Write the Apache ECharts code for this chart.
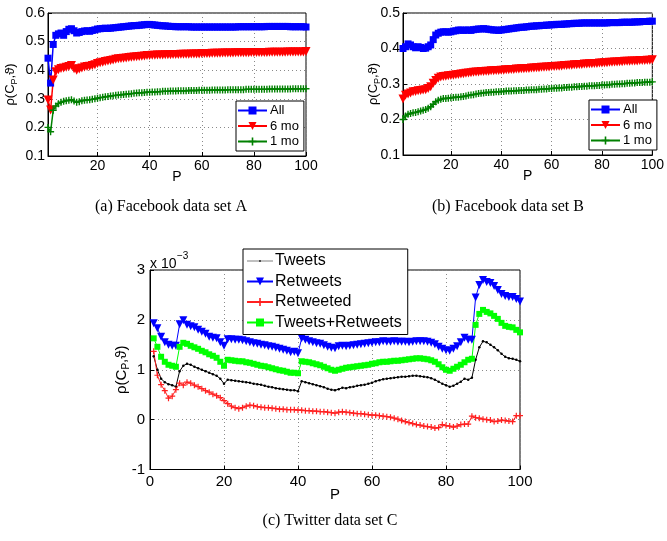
<!DOCTYPE html>
<html><head><meta charset="utf-8">
<script src="https://cdn.jsdelivr.net/npm/echarts@6/dist/echarts.min.js"></script>
<style>html,body{margin:0;padding:0;background:#fff}#c{width:667px;height:541px}</style>
</head><body><div id="c"></div>
<script>
// x positions (P = 1..100)
const P = Array.from({length: 100}, (_, i) => i + 1);

// (a) Facebook data set A
const aAll = [0.442,0.355,0.490,0.522,0.527,0.530,0.522,0.535,0.543,0.545,
  0.538,0.530,0.532,0.535,0.537,0.538,0.536,0.539,0.541,0.544,
  0.545,0.546,0.547,0.546,0.547,0.548,0.549,0.550,0.551,0.552,
  0.553,0.554,0.555,0.556,0.556,0.557,0.558,0.559,0.560,0.560,
  0.559,0.558,0.557,0.556,0.555,0.555,0.554,0.553,0.553,0.552,
  0.552,0.552,0.552,0.552,0.552,0.551,0.551,0.551,0.551,0.551,
  0.551,0.551,0.551,0.551,0.551,0.551,0.551,0.551,0.551,0.551,
  0.551,0.551,0.551,0.552,0.552,0.552,0.552,0.552,0.552,0.552,
  0.552,0.552,0.552,0.552,0.553,0.553,0.553,0.553,0.553,0.553,
  0.553,0.553,0.553,0.552,0.552,0.552,0.552,0.552,0.552,0.551];
const a6mo = [0.296,0.261,0.366,0.395,0.402,0.406,0.408,0.410,0.413,0.416,
  0.405,0.400,0.404,0.408,0.411,0.413,0.414,0.416,0.419,0.423,
  0.426,0.428,0.430,0.432,0.434,0.436,0.438,0.440,0.441,0.442,
  0.443,0.444,0.445,0.446,0.447,0.448,0.449,0.450,0.451,0.451,
  0.452,0.452,0.453,0.453,0.453,0.454,0.454,0.454,0.455,0.455,
  0.455,0.456,0.456,0.456,0.456,0.457,0.457,0.457,0.457,0.458,
  0.458,0.458,0.458,0.459,0.459,0.459,0.459,0.460,0.460,0.460,
  0.460,0.460,0.461,0.461,0.461,0.461,0.461,0.461,0.462,0.462,
  0.462,0.462,0.462,0.462,0.462,0.463,0.463,0.463,0.463,0.463,
  0.463,0.463,0.464,0.464,0.464,0.464,0.464,0.464,0.464,0.465];
const a1mo = [0.200,0.185,0.260,0.275,0.283,0.288,0.291,0.293,0.295,0.297,
  0.292,0.288,0.290,0.293,0.295,0.296,0.297,0.298,0.300,0.302,
  0.304,0.305,0.307,0.308,0.310,0.311,0.312,0.313,0.314,0.315,
  0.316,0.317,0.318,0.319,0.320,0.321,0.321,0.322,0.323,0.323,
  0.324,0.324,0.325,0.325,0.326,0.326,0.326,0.327,0.327,0.327,
  0.328,0.328,0.328,0.328,0.329,0.329,0.329,0.329,0.330,0.330,
  0.330,0.330,0.330,0.331,0.331,0.331,0.331,0.331,0.331,0.332,
  0.332,0.332,0.332,0.332,0.332,0.332,0.333,0.333,0.333,0.333,
  0.333,0.333,0.333,0.333,0.333,0.334,0.334,0.334,0.334,0.334,
  0.334,0.334,0.334,0.334,0.335,0.335,0.335,0.335,0.335,0.335];

// (b) Facebook data set B
const bAll = [0.400,0.405,0.413,0.410,0.405,0.402,0.405,0.403,0.400,0.401,
  0.405,0.410,0.425,0.438,0.443,0.446,0.447,0.447,0.446,0.447,
  0.449,0.450,0.452,0.452,0.451,0.452,0.452,0.451,0.453,0.454,
  0.455,0.455,0.456,0.455,0.454,0.453,0.452,0.452,0.451,0.452,
  0.453,0.454,0.455,0.456,0.457,0.458,0.459,0.460,0.460,0.461,
  0.462,0.463,0.463,0.464,0.464,0.465,0.465,0.466,0.466,0.467,
  0.467,0.468,0.468,0.468,0.469,0.469,0.470,0.470,0.471,0.471,
  0.471,0.472,0.472,0.472,0.472,0.472,0.472,0.472,0.472,0.472,
  0.472,0.472,0.473,0.473,0.473,0.473,0.473,0.474,0.474,0.474,
  0.474,0.474,0.475,0.475,0.475,0.476,0.476,0.476,0.477,0.477];
const b6mo = [0.258,0.268,0.272,0.275,0.278,0.279,0.281,0.282,0.283,0.284,
  0.287,0.292,0.302,0.310,0.316,0.320,0.321,0.322,0.323,0.324,
  0.325,0.326,0.327,0.328,0.329,0.330,0.331,0.332,0.333,0.334,
  0.334,0.335,0.335,0.336,0.336,0.337,0.337,0.338,0.338,0.339,
  0.339,0.340,0.340,0.341,0.341,0.342,0.342,0.343,0.343,0.344,
  0.344,0.345,0.345,0.346,0.346,0.347,0.347,0.348,0.348,0.349,
  0.349,0.350,0.350,0.351,0.352,0.352,0.353,0.353,0.354,0.354,
  0.355,0.355,0.356,0.356,0.357,0.357,0.358,0.358,0.359,0.359,
  0.360,0.360,0.361,0.361,0.362,0.362,0.363,0.363,0.364,0.364,
  0.364,0.365,0.365,0.365,0.366,0.366,0.366,0.367,0.367,0.368];
const b1mo = [0.200,0.210,0.215,0.217,0.219,0.220,0.222,0.224,0.226,0.228,
  0.232,0.236,0.243,0.250,0.254,0.257,0.259,0.259,0.260,0.261,
  0.262,0.263,0.263,0.264,0.265,0.266,0.268,0.269,0.270,0.272,
  0.273,0.274,0.275,0.276,0.276,0.277,0.277,0.278,0.278,0.279,
  0.279,0.280,0.280,0.280,0.281,0.281,0.282,0.282,0.282,0.283,
  0.283,0.284,0.284,0.284,0.285,0.285,0.286,0.286,0.287,0.287,
  0.288,0.288,0.289,0.289,0.290,0.290,0.291,0.291,0.292,0.292,
  0.293,0.293,0.294,0.294,0.295,0.295,0.295,0.296,0.296,0.297,
  0.297,0.298,0.298,0.299,0.299,0.300,0.300,0.301,0.301,0.302,
  0.302,0.303,0.303,0.304,0.304,0.304,0.305,0.305,0.305,0.306];

// (c) Twitter data set C (values x 10^-3)
const cTweets = [1.27,1.00,0.82,0.75,0.71,0.69,0.66,0.97,1.08,1.12,
  1.10,1.06,1.03,1.00,0.97,0.94,0.91,0.88,0.82,0.72,
  0.80,0.79,0.78,0.77,0.76,0.75,0.74,0.72,0.71,0.70,
  0.68,0.66,0.65,0.63,0.62,0.61,0.60,0.59,0.59,0.57,
  0.77,0.75,0.73,0.71,0.69,0.67,0.65,0.62,0.60,0.59,
  0.61,0.64,0.63,0.65,0.66,0.68,0.69,0.70,0.72,0.74,
  0.77,0.79,0.81,0.82,0.83,0.84,0.85,0.86,0.86,0.87,
  0.88,0.88,0.87,0.86,0.85,0.83,0.80,0.76,0.72,0.69,
  0.66,0.68,0.72,0.76,0.82,0.80,0.84,1.20,1.45,1.57,
  1.55,1.50,1.45,1.39,1.32,1.26,1.23,1.22,1.20,1.17];
const cRetweets = [1.93,1.83,1.66,1.55,1.50,1.48,1.48,1.91,1.99,1.90,
  1.87,1.85,1.80,1.76,1.72,1.66,1.64,1.63,1.55,1.48,
  1.61,1.61,1.60,1.60,1.59,1.57,1.55,1.53,1.52,1.50,
  1.49,1.47,1.46,1.44,1.42,1.40,1.38,1.35,1.36,1.33,
  1.63,1.60,1.57,1.55,1.53,1.52,1.49,1.46,1.44,1.43,
  1.47,1.48,1.47,1.48,1.49,1.50,1.51,1.52,1.53,1.54,
  1.55,1.55,1.57,1.56,1.56,1.57,1.56,1.56,1.56,1.55,
  1.56,1.57,1.57,1.57,1.56,1.54,1.51,1.46,1.42,1.39,
  1.38,1.42,1.47,1.55,1.64,1.60,1.60,2.45,2.70,2.80,
  2.76,2.74,2.68,2.60,2.52,2.48,2.46,2.46,2.42,2.37];
const cRetweeted = [1.37,0.89,0.70,0.58,0.43,0.47,0.60,0.73,0.69,0.75,
  0.73,0.69,0.66,0.62,0.58,0.55,0.51,0.48,0.44,0.38,
  0.32,0.27,0.24,0.22,0.24,0.27,0.29,0.28,0.26,0.25,
  0.24,0.24,0.23,0.22,0.21,0.21,0.20,0.20,0.20,0.19,
  0.19,0.18,0.18,0.17,0.17,0.16,0.16,0.15,0.14,0.13,
  0.15,0.16,0.15,0.14,0.13,0.12,0.12,0.11,0.10,0.09,
  0.09,0.08,0.07,0.06,0.05,0.03,0.01,-0.02,-0.04,-0.06,
  -0.08,-0.10,-0.11,-0.13,-0.14,-0.15,-0.17,-0.16,-0.10,-0.12,
  -0.13,-0.15,-0.13,-0.10,-0.09,-0.09,0.07,0.04,0.03,0.01,
  0.00,-0.01,-0.04,-0.03,-0.01,-0.02,-0.03,-0.04,0.08,0.08];
const cTweetsRetweets = [1.63,1.46,1.26,1.16,1.10,1.08,1.06,1.46,1.54,1.52,
  1.48,1.45,1.42,1.38,1.35,1.31,1.28,1.24,1.16,1.08,
  1.20,1.19,1.18,1.17,1.17,1.15,1.14,1.12,1.10,1.08,
  1.07,1.05,1.03,1.01,0.99,0.98,0.96,0.94,0.94,0.93,
  1.17,1.16,1.15,1.13,1.11,1.09,1.06,1.03,1.00,0.98,
  1.00,1.02,1.04,1.05,1.06,1.07,1.08,1.09,1.10,1.12,
  1.13,1.15,1.16,1.16,1.17,1.18,1.18,1.19,1.20,1.21,
  1.22,1.23,1.23,1.22,1.21,1.19,1.16,1.11,1.05,1.00,
  0.98,1.02,1.06,1.10,1.15,1.20,1.22,1.90,2.12,2.20,
  2.16,2.13,2.08,2.02,1.94,1.88,1.86,1.85,1.80,1.75];

// tick labels
const xTicksAB = [20, 40, 60, 80, 100];
const namesAB = ['All', '6 mo', '1 mo'];
const namesC = ['Tweets', 'Retweets', 'Retweeted', 'Tweets+Retweets'];
const captions = ['(a) Facebook data set A', '(b) Facebook data set B', '(c) Twitter data set C'];

const FF = 'Liberation Sans, Arial, DejaVu Sans, sans-serif';
const PLUS = 'path://M4,0H6V4H10V6H6V10H4V6H0V4H4Z';
const pts = arr => P.map((p, i) => [p, arr[i]]);

function yName(fs, sfs) {
  return {
    name: '{n|ρ(C}{s|P}{n|,ϑ)}',
    nameLocation: 'middle',
    nameMoveOverlap: false,
    nameTextStyle: { rich: {
      n: { fontSize: fs, fontFamily: FF, color: '#000', lineHeight: fs + 4 },
      s: { fontSize: sfs, fontFamily: FF, color: '#000', lineHeight: fs + 4, verticalAlign: 'bottom', padding: [Math.round(fs * 0.45), 0, 0, 0] }
    } }
  };
}
const gridLine = { show: true, lineStyle: { color: '#8a8a8a', width: 1, type: [1, 3] } };

function xAxisAB(gi) {
  return {
    type: 'value', gridIndex: gi, min: 1, max: 100,
    axisLine: { show: true, onZero: false, lineStyle: { color: '#000' } },
    axisTick: { show: true, inside: true, length: 4, customValues: xTicksAB, lineStyle: { color: '#000' } },
    axisLabel: { customValues: xTicksAB, color: '#000', fontSize: 14, fontFamily: FF, margin: 3 },
    splitLine: gridLine,
    name: 'P', nameLocation: 'middle', nameGap: 14, nameMoveOverlap: false,
    nameTextStyle: { fontSize: 14, fontFamily: FF, color: '#000' }
  };
}
function yAxisAB(gi, min, max, gap) {
  return Object.assign({
    type: 'value', gridIndex: gi, min: min, max: max, interval: 0.1,
    axisLine: { show: true, onZero: false, lineStyle: { color: '#000' } },
    axisTick: { show: true, inside: true, length: 4, lineStyle: { color: '#000' } },
    axisLabel: { color: '#000', fontSize: 14, fontFamily: FF, margin: 3, formatter: v => v.toFixed(1) },
    splitLine: gridLine,
    nameGap: gap
  }, yName(13, 9));
}

function lineSeries(name, arr, xi, color, symbol, size, rotate, lw) {
  return {
    type: 'line', name: name, xAxisIndex: xi, yAxisIndex: xi,
    data: pts(arr), symbol: symbol, symbolSize: size, symbolRotate: rotate || 0,
    showSymbol: true, showAllSymbol: true, animation: false,
    lineStyle: { color: color, width: lw || 1.5 },
    itemStyle: { color: color, borderWidth: 0 },
    emphasis: { disabled: true }
  };
}

const chart = echarts.init(document.getElementById('c'), null, { renderer: 'canvas' });
chart.setOption({
  backgroundColor: '#fff',
  animation: false,
  grid: [
    { left: 48, top: 13, width: 258, height: 143, show: true, borderColor: '#000', borderWidth: 1, backgroundColor: 'transparent' },
    { left: 403, top: 13, width: 258, height: 142, show: true, borderColor: '#000', borderWidth: 1, backgroundColor: 'transparent' },
    { left: 150, top: 270, width: 370, height: 199.5, show: true, borderColor: '#000', borderWidth: 1, backgroundColor: 'transparent' }
  ],
  xAxis: [
    xAxisAB(0), xAxisAB(1),
    {
      type: 'value', gridIndex: 2, min: 0, max: 100, interval: 20,
      axisLine: { show: true, onZero: false, lineStyle: { color: '#000' } },
      axisTick: { show: true, inside: true, length: 4, lineStyle: { color: '#000' } },
      axisLabel: { color: '#000', fontSize: 15, fontFamily: FF, margin: 5 },
      splitLine: gridLine,
      name: 'P', nameLocation: 'middle', nameGap: 18, nameMoveOverlap: false,
      nameTextStyle: { fontSize: 15, fontFamily: FF, color: '#000' }
    }
  ],
  yAxis: [
    yAxisAB(0, 0.1, 0.6, 29), yAxisAB(1, 0.1, 0.5, 21),
    Object.assign({
      type: 'value', gridIndex: 2, min: -1, max: 3, interval: 1,
      axisLine: { show: true, onZero: false, lineStyle: { color: '#000' } },
      axisTick: { show: true, inside: true, length: 4, lineStyle: { color: '#000' } },
      axisLabel: { color: '#000', fontSize: 15, fontFamily: FF, margin: 5 },
      splitLine: gridLine,
      nameGap: 19
    }, yName(15, 10))
  ],
  legend: [
    { data: namesAB, orient: 'vertical', left: 236, top: 101, itemWidth: 29, itemHeight: 10, itemGap: 2.5,
      padding: [3, 5, 3, 1], borderColor: '#000', borderWidth: 1, backgroundColor: '#fff', borderRadius: 0,
      textStyle: { fontSize: 13, fontFamily: FF, color: '#000', padding: [0, 0, 0, -2] }, selectedMode: false, z: 10 },
    { data: namesAB, orient: 'vertical', left: 589, top: 100, itemWidth: 29, itemHeight: 10, itemGap: 2.5,
      padding: [3, 5, 3, 1], borderColor: '#000', borderWidth: 1, backgroundColor: '#fff', borderRadius: 0,
      textStyle: { fontSize: 13, fontFamily: FF, color: '#000', padding: [0, 0, 0, -2] }, selectedMode: false, z: 10 },
    { data: [
        { name: 'Tweets', icon: 'path://M0,4.6H30V5.4H0Z M14,4H16V6H14Z' },
        'Retweets', 'Retweeted', 'Tweets+Retweets'],
      orient: 'vertical', left: 243, top: 249, itemWidth: 26, itemHeight: 10, itemGap: 4.5,
      padding: [4, 6, 4, 3], borderColor: '#000', borderWidth: 1, backgroundColor: '#fff', borderRadius: 0,
      textStyle: { fontSize: 16, fontFamily: FF, color: '#000', padding: [0, 0, 0, -3] }, selectedMode: false, z: 10 }
  ],
  graphic: [
    { type: 'text', left: 150, top: 257, style: { text: 'x 10', font: '14px ' + FF, fill: '#000' } },
    { type: 'text', left: 177, top: 251, style: { text: '\u22123', font: '10px ' + FF, fill: '#000' } },
    { type: 'text', x: 171, y: 207, style: { text: captions[0], font: '16px Liberation Serif, Times New Roman, serif', fill: '#000', textAlign: 'center', textVerticalAlign: 'middle' } },
    { type: 'text', x: 508, y: 207, style: { text: captions[1], font: '16px Liberation Serif, Times New Roman, serif', fill: '#000', textAlign: 'center', textVerticalAlign: 'middle' } },
    { type: 'text', x: 330, y: 521, style: { text: captions[2], font: '16px Liberation Serif, Times New Roman, serif', fill: '#000', textAlign: 'center', textVerticalAlign: 'middle' } }
  ],
  series: [
    lineSeries(namesAB[0], aAll, 0, '#0000ff', 'rect', 7, 0, 1.5),
    lineSeries(namesAB[1], a6mo, 0, '#ff0000', 'triangle', 9, 180, 1.5),
    lineSeries(namesAB[2], a1mo, 0, '#008000', PLUS, 7, 0, 1.5),
    lineSeries(namesAB[0], bAll, 1, '#0000ff', 'rect', 7, 0, 1.5),
    lineSeries(namesAB[1], b6mo, 1, '#ff0000', 'triangle', 9, 180, 1.5),
    lineSeries(namesAB[2], b1mo, 1, '#008000', PLUS, 7, 0, 1.5),
    lineSeries(namesC[0], cTweets, 2, '#000000', 'circle', 2.5, 0, 1),
    lineSeries(namesC[1], cRetweets, 2, '#0000ff', 'triangle', 8, 180, 1),
    lineSeries(namesC[2], cRetweeted, 2, '#ff2020', PLUS, 6, 0, 1),
    lineSeries(namesC[3], cTweetsRetweets, 2, '#00ff00', 'rect', 6, 0, 1)
  ]
});
</script>
</body></html>
